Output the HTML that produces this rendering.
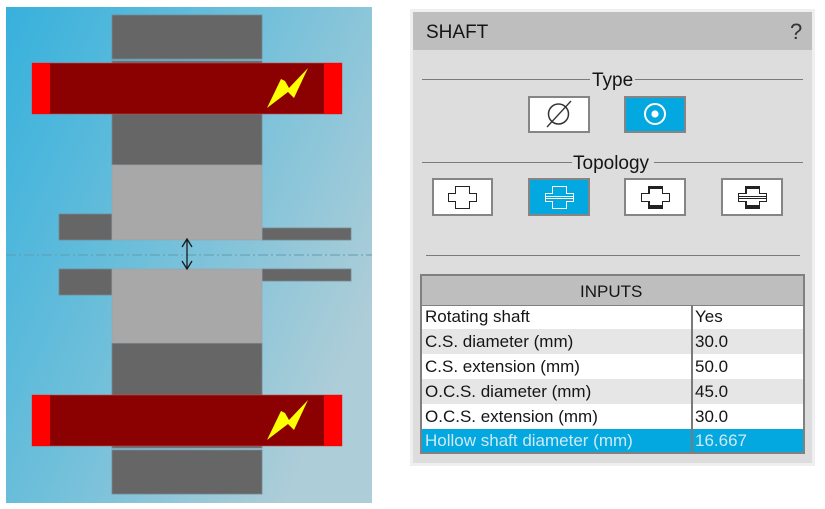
<!DOCTYPE html>
<html><head><meta charset="utf-8"><style>
html,body{margin:0;padding:0;background:#fff;}
body{width:825px;height:509px;position:relative;overflow:hidden;font-family:"Liberation Sans",sans-serif;}
.a{position:absolute;}
.t{position:absolute;white-space:nowrap;line-height:1;color:#151515;}
.btn{position:absolute;box-sizing:border-box;border:2px solid #858585;background:#fff;}
.sel{background:#02a8df;}
.row{position:absolute;left:422px;width:381px;}
</style></head><body>
<svg class="a" style="left:0;top:0" width="825" height="509" viewBox="0 0 825 509">
<defs>
<linearGradient id="g" x1="0" y1="0" x2="1" y2="0.6">
<stop offset="0" stop-color="#36b1dd"/>
<stop offset="0.5" stop-color="#6fbfda"/>
<stop offset="1" stop-color="#adcdd8"/>
</linearGradient>
</defs>
<rect x="6" y="7" width="366" height="496" fill="url(#g)"/>
<g fill="#666666" stroke="#778892" stroke-width="0.8">
<rect x="112" y="15" width="150" height="44"/>
<rect x="112" y="61" width="150" height="104"/>
<rect x="59" y="214" width="53" height="26"/>
<rect x="262" y="228" width="89" height="12"/>
<rect x="59" y="269" width="53" height="26"/>
<rect x="262" y="269" width="89" height="12"/>
<rect x="112" y="343" width="150" height="105"/>
<rect x="112" y="450" width="150" height="44"/>
</g>
<g fill="#a8a8a8" stroke="#98a4aa" stroke-width="0.6">
<rect x="112" y="165" width="150" height="75"/>
<rect x="112" y="269" width="150" height="74"/>
</g>
<g stroke="#c05050" stroke-width="0.6">
<rect x="32" y="63" width="310" height="51" fill="#8b0000"/>
<rect x="32" y="63" width="18" height="51" fill="#ff0000" stroke="none"/>
<rect x="324" y="63" width="18" height="51" fill="#ff0000" stroke="none"/>
<rect x="32" y="395" width="310" height="51" fill="#8b0000"/>
<rect x="32" y="395" width="18" height="51" fill="#ff0000" stroke="none"/>
<rect x="324" y="395" width="18" height="51" fill="#ff0000" stroke="none"/>
</g>
<polygon points="267,108 281,79 285,81 289,88 308,68 294,98 288,92" fill="#ffff00"/>
<polygon points="267,440 281,411 285,413 289,420 308,400 294,430 288,424" fill="#ffff00"/>
<line x1="6" y1="255" x2="372" y2="255" stroke="#5d9db2" stroke-width="1" stroke-dasharray="10 3 2 3"/>
<g stroke="#1a1a1a" stroke-width="1.3" fill="none">
<line x1="187" y1="239" x2="187" y2="269"/>
<polyline points="182,247 187,239 192,247"/>
<polyline points="182,261 187,269 192,261"/>
</g>
</svg>

<!-- Panel -->
<div class="a" style="left:410px;top:9px;width:405px;height:457px;background:#efefef;"></div>
<div class="a" style="left:413px;top:12px;width:399px;height:451px;background:#dddddd;"></div>
<div class="a" style="left:413px;top:12px;width:399px;height:38px;background:#bebebe;"></div>
<div class="t" style="left:426px;top:23px;font-size:19px;">SHAFT</div>
<div class="t" style="left:790px;top:21px;font-size:22px;color:#333;">?</div>

<!-- Type separator -->
<div class="a" style="left:422px;top:79px;width:168px;height:1px;background:#7a7a7a;"></div>
<div class="a" style="left:635px;top:79px;width:168px;height:1px;background:#7a7a7a;"></div>
<div class="t" style="left:592px;top:71px;font-size:19px;">Type</div>

<div class="btn" style="left:528px;top:96px;width:62px;height:37px;"></div>
<div class="btn sel" style="left:624px;top:96px;width:62px;height:37px;"></div>

<!-- Topology separator -->
<div class="a" style="left:422px;top:162px;width:150px;height:1px;background:#7a7a7a;"></div>
<div class="a" style="left:654px;top:162px;width:149px;height:1px;background:#7a7a7a;"></div>
<div class="t" style="left:573px;top:154px;font-size:19px;">Topology</div>

<div class="btn" style="left:432px;top:178px;width:61px;height:38px;"></div>
<div class="btn sel" style="left:528px;top:178px;width:62px;height:38px;"></div>
<div class="btn" style="left:624px;top:178px;width:62px;height:38px;"></div>
<div class="btn" style="left:721px;top:178px;width:62px;height:38px;"></div>

<div class="a" style="left:426px;top:255px;width:374px;height:1px;background:#7a7a7a;"></div>

<svg class="a" style="left:0;top:0" width="825" height="509" viewBox="0 0 825 509">
<!-- type icons -->
<circle cx="558.5" cy="114" r="10" fill="none" stroke="#333" stroke-width="1.5"/>
<line x1="547" y1="127" x2="571" y2="101" stroke="#333" stroke-width="1.3"/>
<circle cx="655" cy="114" r="10" fill="none" stroke="#fff" stroke-width="2"/>
<circle cx="655" cy="114" r="3.6" fill="#fff"/>
<!-- topology icons -->
<g fill="#fff" stroke="#222" stroke-width="1">
<polygon points="455.5,186.5 469.5,186.5 469.5,193.5 476.5,193.5 476.5,201.5 469.5,201.5 469.5,208.5 455.5,208.5 455.5,201.5 448.5,201.5 448.5,193.5 455.5,193.5"/>
</g>
<g fill="none" stroke="#fff" stroke-width="1">
<polygon points="552.5,186.5 566.5,186.5 566.5,193.5 573.5,193.5 573.5,201.5 566.5,201.5 566.5,208.5 552.5,208.5 552.5,201.5 545.5,201.5 545.5,193.5 552.5,193.5"/>
<line x1="545.5" y1="196.5" x2="573.5" y2="196.5"/>
<line x1="545.5" y1="198.5" x2="573.5" y2="198.5"/>
</g>
<g fill="#fff" stroke="#222" stroke-width="1">
<polygon points="648.5,186.5 662.5,186.5 662.5,193.5 669.5,193.5 669.5,201.5 662.5,201.5 662.5,208.5 648.5,208.5 648.5,201.5 641.5,201.5 641.5,193.5 648.5,193.5"/>
<polygon points="745.5,186.5 759.5,186.5 759.5,193.5 766.5,193.5 766.5,201.5 759.5,201.5 759.5,208.5 745.5,208.5 745.5,201.5 738.5,201.5 738.5,193.5 745.5,193.5"/>
<line x1="738.5" y1="196.5" x2="766.5" y2="196.5"/>
<line x1="738.5" y1="198.5" x2="766.5" y2="198.5"/>
</g>
<g fill="#222">
<rect x="648" y="186" width="15" height="3"/>
<rect x="648" y="205" width="15" height="4"/>
<rect x="648" y="186" width="2" height="8"/>
<rect x="648" y="201" width="2" height="8"/>
<rect x="745" y="186" width="15" height="3"/>
<rect x="745" y="205" width="15" height="4"/>
<rect x="745" y="186" width="2" height="8"/>
<rect x="745" y="201" width="2" height="8"/>
</g>
</svg>

<!-- Table -->
<div class="a" style="left:420px;top:274px;width:385px;height:180px;background:#808080;"></div>
<div class="row" style="top:276px;height:29px;background:#bebebe;"></div>
<div class="row" style="top:306px;height:23px;background:#ffffff;"></div>
<div class="row" style="top:329px;height:25px;background:#e6e6e6;"></div>
<div class="row" style="top:354px;height:25px;background:#ffffff;"></div>
<div class="row" style="top:379px;height:25px;background:#e6e6e6;"></div>
<div class="row" style="top:404px;height:25px;background:#ffffff;"></div>
<div class="row" style="top:429px;height:23px;background:#02a8df;"></div>
<div class="a" style="left:691px;top:305px;width:2px;height:147px;background:#7a7a7a;"></div>

<div class="t" style="left:580px;top:283px;font-size:17px;">INPUTS</div>
<div class="t" style="left:425px;top:308px;font-size:17px;">Rotating shaft</div>
<div class="t" style="left:695px;top:308px;font-size:17px;">Yes</div>
<div class="t" style="left:425px;top:333px;font-size:17px;">C.S. diameter (mm)</div>
<div class="t" style="left:695px;top:333px;font-size:17px;">30.0</div>
<div class="t" style="left:425px;top:358px;font-size:17px;">C.S. extension (mm)</div>
<div class="t" style="left:695px;top:358px;font-size:17px;">50.0</div>
<div class="t" style="left:425px;top:383px;font-size:17px;">O.C.S. diameter (mm)</div>
<div class="t" style="left:695px;top:383px;font-size:17px;">45.0</div>
<div class="t" style="left:425px;top:408px;font-size:17px;">O.C.S. extension (mm)</div>
<div class="t" style="left:695px;top:408px;font-size:17px;">30.0</div>
<div class="t" style="left:425px;top:432px;font-size:17px;color:#cfe9f3;">Hollow shaft diameter (mm)</div>
<div class="t" style="left:695px;top:432px;font-size:17px;color:#cfe9f3;">16.667</div>
</body></html>
